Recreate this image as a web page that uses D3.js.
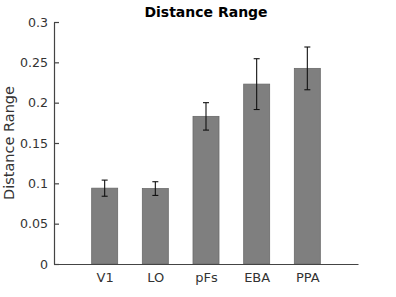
<!DOCTYPE html>
<html>
<head>
<meta charset="utf-8">
<script src="https://cdn.jsdelivr.net/npm/d3@7"></script>
<style>
  body { margin: 0; background: #fff; }
  svg { display: block; font-family: "DejaVu Sans", sans-serif; }
</style>
</head>
<body>
<div id="chart"></div>
<script>
const categories = ["V1", "LO", "pFs", "EBA", "PPA"];
const means = [0.094, 0.0935, 0.183, 0.223, 0.2425];
const errors = [0.010, 0.0085, 0.017, 0.0315, 0.0265];
const yTicks = [0, 0.05, 0.1, 0.15, 0.2, 0.25, 0.3];

const width = 396, height = 297;
const margin = { left: 54, right: 38, top: 22, bottom: 33 };

const svg = d3.select("#chart").append("svg")
  .attr("width", width)
  .attr("height", height);

// x positions 1..5 inside an xlim of [0, 6]
const x = d3.scaleLinear()
  .domain([0, categories.length + 1])
  .range([margin.left, width - margin.right]);

const y = d3.scaleLinear()
  .domain([0, 0.3])
  .range([height - margin.bottom, margin.top]);

const barW = 26;
const axisColor = "#444";

// bars
svg.selectAll("rect.bar")
  .data(means)
  .join("rect")
  .attr("class", "bar")
  .attr("x", (d, i) => x(i + 1) - barW / 2)
  .attr("y", d => y(d))
  .attr("width", barW)
  .attr("height", d => y(0) - y(d))
  .attr("fill", "#7f7f7f")
  .attr("stroke", "#6a6a6a")
  .attr("stroke-width", 0.8);

// error bars
const eb = svg.selectAll("g.err")
  .data(means.map((m, i) => ({ m, e: errors[i], i })))
  .join("g")
  .attr("class", "err")
  .attr("stroke", "#111")
  .attr("stroke-width", 1.1);

eb.append("line")
  .attr("x1", d => x(d.i + 1)).attr("x2", d => x(d.i + 1))
  .attr("y1", d => y(d.m - d.e)).attr("y2", d => y(d.m + d.e));
eb.append("line")
  .attr("x1", d => x(d.i + 1) - 3).attr("x2", d => x(d.i + 1) + 3)
  .attr("y1", d => y(d.m + d.e)).attr("y2", d => y(d.m + d.e));
eb.append("line")
  .attr("x1", d => x(d.i + 1) - 3).attr("x2", d => x(d.i + 1) + 3)
  .attr("y1", d => y(d.m - d.e)).attr("y2", d => y(d.m - d.e));

// y axis (ticks pointing inward)
const yAxis = svg.append("g")
  .attr("transform", `translate(${margin.left},0)`)
  .call(d3.axisLeft(y)
    .tickValues(yTicks)
    .tickFormat(d => d3.format("~g")(d))
    .tickSizeInner(-5)
    .tickSizeOuter(0)
    .tickPadding(6));
yAxis.select(".domain").attr("stroke", axisColor).attr("stroke-width", 1.2);
yAxis.selectAll(".tick line").attr("stroke", axisColor).attr("stroke-width", 1.2);
yAxis.selectAll(".tick text")
  .attr("fill", "#333")
  .attr("font-size", 12.6)
  .attr("font-family", "DejaVu Sans, sans-serif");

// x axis (no ticks)
const xAxis = svg.append("g")
  .attr("transform", `translate(0,${y(0)})`)
  .call(d3.axisBottom(x)
    .tickValues(d3.range(1, categories.length + 1))
    .tickFormat(d => categories[d - 1])
    .tickSize(0)
    .tickSizeOuter(0)
    .tickPadding(9));
xAxis.select(".domain").attr("stroke", axisColor).attr("stroke-width", 1.2);
xAxis.selectAll(".tick text")
  .attr("fill", "#333")
  .attr("font-size", 13)
  .attr("font-family", "DejaVu Sans, sans-serif");

// title
svg.append("text")
  .attr("x", (margin.left + width - margin.right) / 2)
  .attr("y", 17)
  .attr("text-anchor", "middle")
  .attr("font-size", 14)
  .attr("font-weight", "bold")
  .attr("fill", "#000")
  .text("Distance Range");

// y label
svg.append("text")
  .attr("transform", `translate(14,${(margin.top + height - margin.bottom) / 2}) rotate(-90)`)
  .attr("text-anchor", "middle")
  .attr("font-size", 14.5)
  .attr("fill", "#333")
  .text("Distance Range");
</script>
</body>
</html>
